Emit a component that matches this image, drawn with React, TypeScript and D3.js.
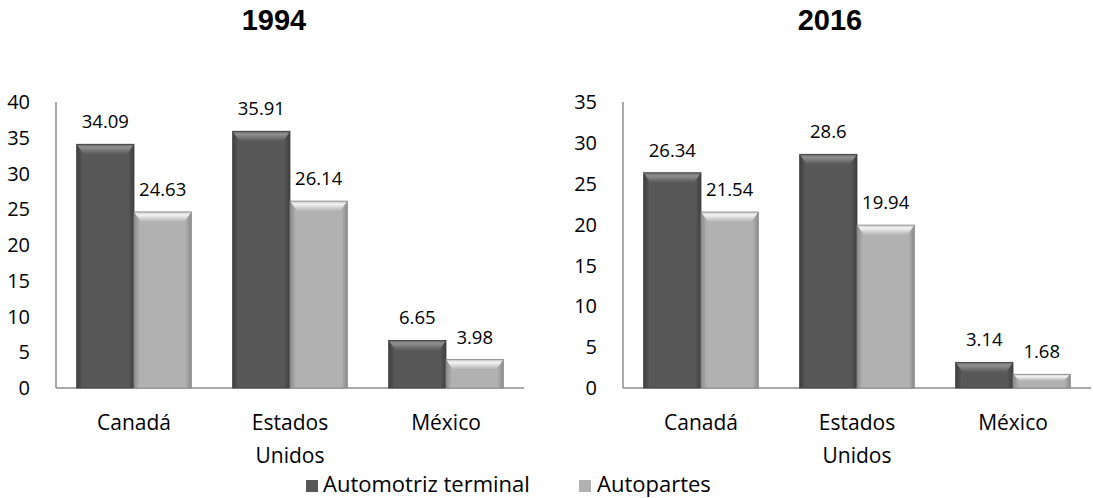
import React from 'react';
import * as d3 from 'd3';

const categories = ['Canadá', 'Estados Unidos', 'México'];
const seriesNames = ['Automotriz terminal', 'Autopartes'];
const terminal1994 = [34.09, 35.91, 6.65];
const autopartes1994 = [24.63, 26.14, 3.98];
const terminal2016 = [26.34, 28.6, 3.14];
const autopartes2016 = [21.54, 19.94, 1.68];
const ticks1994 = [0, 5, 10, 15, 20, 25, 30, 35, 40];
const ticks2016 = [0, 5, 10, 15, 20, 25, 30, 35];

const FONT = '"Open Sans", "Noto Sans", sans-serif';
const W = 1093;
const H = 498;

const palettes = [
  { edge: '#3e3e3e', mid: '#585858', top: '#909090', topEdge: '#666666' },
  { edge: '#8a8a8a', mid: '#b1b1b1', top: '#f4f4f4', topEdge: '#c4c4c4' },
];

interface PanelProps {
  title: string;
  titleX: number;
  left: number;
  max: number;
  ticks: number[];
  series: number[][];
}

const Bar: React.FC<{ x: number; y: number; w: number; h: number; s: number }> = ({ x, y, w, h, s }) => {
  const bev = Math.min(10, h / 2);
  const side = Math.min(7, w / 4);
  return (
    <g>
      <rect x={x} y={y} width={w} height={h} fill={`url(#body${s})`} />
      <polygon
        points={`${x},${y} ${x + w},${y} ${x + w - side},${y + bev} ${x + side},${y + bev}`}
        fill={`url(#top${s})`}
      />
      <rect x={x} y={y} width={w} height={h} fill="none" stroke={palettes[s].edge} strokeWidth={0.8} />
    </g>
  );
};

const Panel: React.FC<PanelProps> = ({ title, titleX, left, max, ticks, series }) => {
  const top = 102;
  const bottom = 388;
  const plotW = 468;
  const y = d3.scaleLinear().domain([0, max]).range([bottom, top]);
  const x0 = d3.scaleBand().domain(categories).range([left, left + plotW]).paddingInner(0).paddingOuter(0);
  const x1 = d3.scaleBand().domain(['0', '1']).range([0, x0.bandwidth()]).paddingOuter(0.36).paddingInner(0);

  return (
    <g>
      <text x={titleX} y={30} textAnchor="middle" fontFamily="Arial, 'Liberation Sans', sans-serif" fontWeight="bold" fontSize={29} fill="#000">
        {title}
      </text>
      {ticks.map(t => (
        <text key={t} x={left - 26} y={y(t)} dy="0.36em" textAnchor="end" fontFamily={FONT} fontSize={20} fill="#000">
          {t}
        </text>
      ))}
      <line x1={left} x2={left} y1={top} y2={bottom} stroke="#8c8c8c" strokeWidth={1.5} />
      <line x1={left} x2={left + plotW} y1={bottom} y2={bottom} stroke="#8c8c8c" strokeWidth={1.5} />
      {categories.map((c, i) => (
        <g key={c}>
          {series.map((vals, s) => {
            const bx = (x0(c) || 0) + (x1(String(s)) || 0);
            const by = y(vals[i]);
            return (
              <g key={s}>
                <Bar x={bx} y={by} w={x1.bandwidth()} h={bottom - by} s={s} />
                <text x={bx + x1.bandwidth() / 2} y={by - 16} textAnchor="middle" fontFamily={FONT} fontSize={18.5} fill="#000">
                  {vals[i]}
                </text>
              </g>
            );
          })}
          {c.split(' ').map((word, k) => (
            <text key={k} x={(x0(c) || 0) + x0.bandwidth() / 2} y={430 + k * 33} textAnchor="middle" fontFamily={FONT} fontSize={21} fill="#000">
              {word}
            </text>
          ))}
        </g>
      ))}
    </g>
  );
};

const App: React.FC = () => {
  return (
    <svg width={W} height={H} style={{ position: 'absolute', left: 0, top: 0 }}>
      <defs>
        {palettes.map((p, s) => (
          <React.Fragment key={s}>
            <linearGradient id={`body${s}`} x1="0" x2="1" y1="0" y2="0">
              <stop offset="0" stopColor={p.edge} />
              <stop offset="0.1" stopColor={p.mid} />
              <stop offset="0.9" stopColor={p.mid} />
              <stop offset="1" stopColor={p.edge} />
            </linearGradient>
            <linearGradient id={`top${s}`} x1="0" x2="0" y1="0" y2="1">
              <stop offset="0" stopColor={p.topEdge} />
              <stop offset="0.3" stopColor={p.top} />
              <stop offset="1" stopColor={p.mid} />
            </linearGradient>
          </React.Fragment>
        ))}
      </defs>
      <rect width={W} height={H} fill="#fff" />
      <Panel title="1994" titleX={274} left={56} max={40} ticks={ticks1994} series={[terminal1994, autopartes1994]} />
      <Panel title="2016" titleX={830} left={623} max={35} ticks={ticks2016} series={[terminal2016, autopartes2016]} />
      <g>
        <rect x={306} y={480} width={12} height={12} fill={palettes[0].mid} />
        <text x={323} y={492} fontFamily={FONT} fontSize={22} fill="#000">{seriesNames[0]}</text>
        <rect x={579} y={480} width={12} height={12} fill={palettes[1].mid} />
        <text x={597} y={492} fontFamily={FONT} fontSize={22} fill="#000">{seriesNames[1]}</text>
      </g>
    </svg>
  );
};

export default App;
